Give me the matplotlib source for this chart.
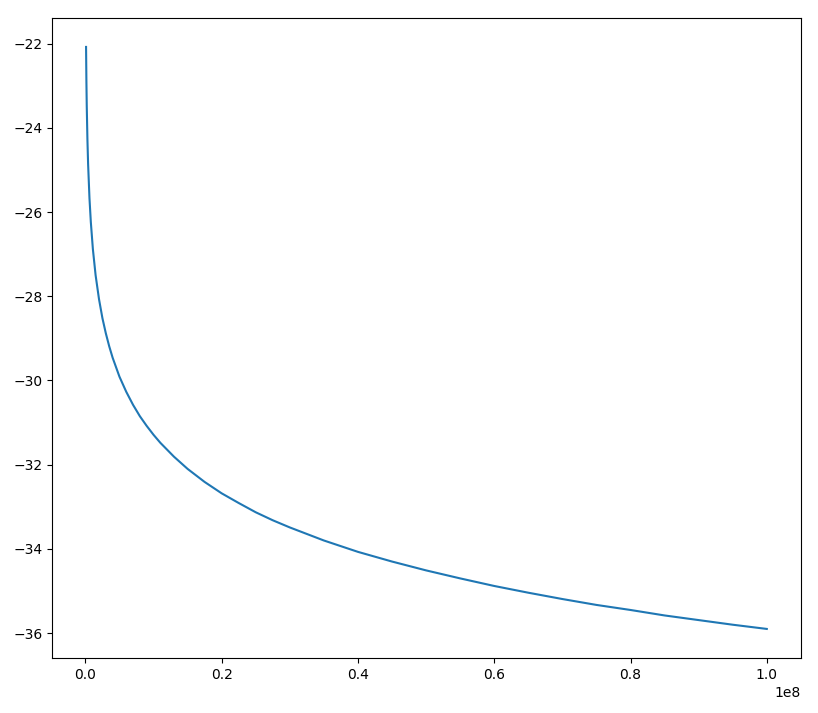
import matplotlib
matplotlib.use('Agg')
import matplotlib.pyplot as plt
import numpy as np

# x in units of 1e8, y
x_vals = [0.001, 0.0015, 0.002, 0.003, 0.004, 0.006, 0.008, 0.011, 0.015, 0.02,
          0.025, 0.03, 0.035, 0.04, 0.05, 0.06, 0.07, 0.08, 0.09, 0.10,
          0.11, 0.13, 0.15, 0.175, 0.2, 0.225, 0.25, 0.275, 0.3, 0.35,
          0.4, 0.45, 0.5, 0.55, 0.6, 0.65, 0.7, 0.75, 0.8, 0.85,
          0.9, 0.95, 1.0]
y_vals = [-22.08, -22.89, -23.47, -24.28, -24.86, -25.67, -26.24, -26.88, -27.50, -28.07,
          -28.52, -28.88, -29.19, -29.46, -29.91, -30.27, -30.58, -30.85, -31.08, -31.29,
          -31.48, -31.81, -32.10, -32.41, -32.68, -32.91, -33.13, -33.32, -33.49, -33.80,
          -34.07, -34.30, -34.51, -34.70, -34.88, -35.04, -35.19, -35.33, -35.45, -35.58,
          -35.69, -35.80, -35.90]

x = np.array(x_vals) * 1e8
y = np.array(y_vals)

fig, ax = plt.subplots(figsize=(8.18, 7.13), dpi=100)
fig.subplots_adjust(left=0.0636, right=0.979, top=0.975, bottom=0.0771)
ax.plot(x, y)

plt.savefig('out.png')
